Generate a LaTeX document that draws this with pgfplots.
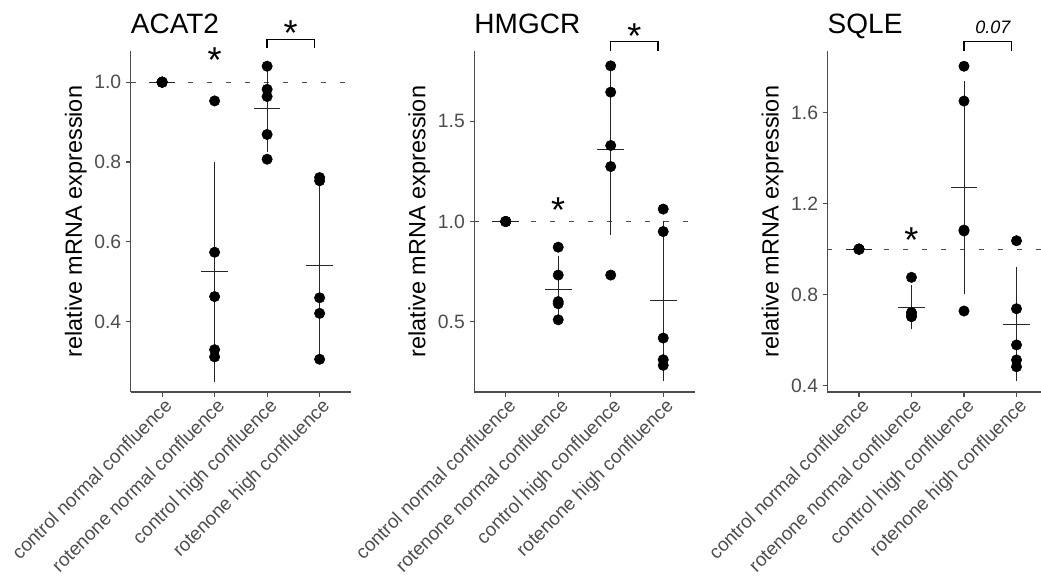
\documentclass[border=0pt]{standalone}
\usepackage{fontspec}
\setmainfont{Liberation Sans}
\usepackage{pgfplots}
\pgfplotsset{compat=1.18}

\definecolor{axgray}{HTML}{4D4D4D}

\pgfplotsset{
  panel/.style={
    scale only axis, width=165.4pt, height=255.75pt,
    xmin=0.4, xmax=4.6, clip=false,
    axis x line*=bottom, axis y line*=left,
    axis line style={axgray, line width=0.8pt, -},
    xtick={1,2,3,4},
    xticklabels={control normal confluence, rotenone normal confluence,
                 control high confluence, rotenone high confluence},
    tick align=outside, major tick length=3.5pt,
    tick style={axgray, line width=0.8pt},
    xticklabel style={xshift=1pt, yshift=1pt, rotate=45, anchor=north east, inner sep=1pt,
                      font=\fontsize{14.2}{15}\selectfont, text=axgray},
    yticklabel style={font=\fontsize{14.5}{15}\selectfont, text=axgray},
    /pgf/number format/assume math mode=true,
    /pgf/number format/fixed, /pgf/number format/fixed zerofill,
    /pgf/number format/precision=1,
    ylabel={relative mRNA expression},
    ylabel style={font=\fontsize{17.6}{20}\selectfont,
                  at={(axis description cs:-0.249,0.5)}, anchor=center},
  },
  refline/.style={black!70, line width=0.7pt, dash pattern=on 3.75pt off 10.5pt},
  meanbar/.style={only marks, mark=-, mark size=10pt, black!85,
                  mark options={line width=0.7pt},
                  error bars/.cd, y dir=both, y explicit,
                  error bar style={line width=0.7pt, black!85},
                  error mark options={mark size=4.1pt, line width=0.7pt, black!85}},
  dots/.style={only marks, mark=*, mark size=3.9pt, black},
}
\tikzset{
  star/.style={font=\fontsize{27}{27}\selectfont, anchor=base, inner sep=0pt},
  ttl/.style={font=\fontsize{21}{22}\selectfont, anchor=base west, inner sep=0pt},
  brk/.style={line width=1pt},
}

\begin{document}
\begin{tikzpicture}
\path[use as bounding box] (0,0) rectangle (780.75pt,-434.25pt);
\clip (0,0) rectangle (780.75pt,-434.25pt);

% ACAT2
\begin{axis}[panel, at={(97.95pt,-294pt)}, anchor=south west,
  ymin=0.224, ymax=1.078, ytick={0.4,0.6,0.8,1.0}]
\addplot[refline] coordinates {(0.4,1) (4.6,1)};
\addplot[meanbar] coordinates {
  (1,1.0) +- (0,0) (2,0.525) +- (0,0.261) (3,0.933) +- (0,0.093) (4,0.540) +- (0,0.207)};
\addplot[dots] coordinates {
  (1,1.0) (1,1.0) (1,1.0) (1,1.0) (1,1.0)
  (2,0.953) (2,0.574) (2,0.463) (2,0.330) (2,0.312)
  (3,1.040) (3,0.982) (3,0.964) (3,0.869) (3,0.807)
  (4,0.761) (4,0.753) (4,0.460) (4,0.421) (4,0.306)};
\node[star] at (axis cs:2,1.023) {*};
\draw[brk] (axis cs:3,1.085) |- (axis cs:3.9,1.106) -- (axis cs:3.9,1.085);
\node[star] at (axis cs:3.45,1.093) {*};
\node[ttl] at (rel axis cs:0,1) [yshift=13.5pt] {ACAT2};
\end{axis}

% HMGCR
\begin{axis}[panel, at={(355.65pt,-294pt)}, anchor=south west,
  ymin=0.150, ymax=1.850, ytick={0.5,1.0,1.5}]
\addplot[refline] coordinates {(0.4,1) (4.6,1)};
\addplot[meanbar] coordinates {
  (1,1.0) +- (0,0) (2,0.661) +- (0,0.142) (3,1.361) +- (0,0.402) (4,0.605) +- (0,0.371)};
\addplot[dots] coordinates {
  (1,1.0) (1,1.0) (1,1.0) (1,1.0) (1,1.0)
  (2,0.872) (2,0.733) (2,0.601) (2,0.590) (2,0.510)
  (3,1.776) (3,1.645) (3,1.379) (3,1.274) (3,0.733)
  (4,1.062) (4,0.950) (4,0.419) (4,0.311) (4,0.283)};
\node[star] at (axis cs:2,0.995) {*};
\draw[brk] (axis cs:3,1.852) |- (axis cs:3.9,1.897) -- (axis cs:3.9,1.852);
\node[star] at (axis cs:3.45,1.863) {*};
\node[ttl] at (rel axis cs:0,1) [yshift=13.5pt] {HMGCR};
\end{axis}

% SQLE
\begin{axis}[panel, at={(620.6pt,-294pt)}, anchor=south west,
  ymin=0.372, ymax=1.871, ytick={0.4,0.8,1.2,1.6}]
\addplot[refline] coordinates {(0.4,1) (4.6,1)};
\addplot[meanbar] coordinates {
  (1,1.0) +- (0,0) (2,0.745) +- (0,0.074) (3,1.270) +- (0,0.445) (4,0.671) +- (0,0.227)};
\addplot[dots] coordinates {
  (1,1.0) (1,1.0) (1,1.0) (1,1.0) (1,1.0)
  (2,0.876) (2,0.721) (2,0.719) (2,0.706) (2,0.703)
  (3,1.804) (3,1.651) (3,1.084) (3,1.080) (3,0.728)
  (4,1.037) (4,0.738) (4,0.579) (4,0.513) (4,0.483)};
\node[star] at (axis cs:2,0.984) {*};
\draw[brk] (axis cs:3,1.873) |- (axis cs:3.9,1.912) -- (axis cs:3.9,1.873);
\node[anchor=base, inner sep=0pt, font=\fontsize{13.5}{14}\selectfont\itshape] at (axis cs:3.55,1.947) {0.07};
\node[ttl] at (rel axis cs:0,1) [yshift=13.5pt] {SQLE};
\end{axis}
\end{tikzpicture}
\end{document}
